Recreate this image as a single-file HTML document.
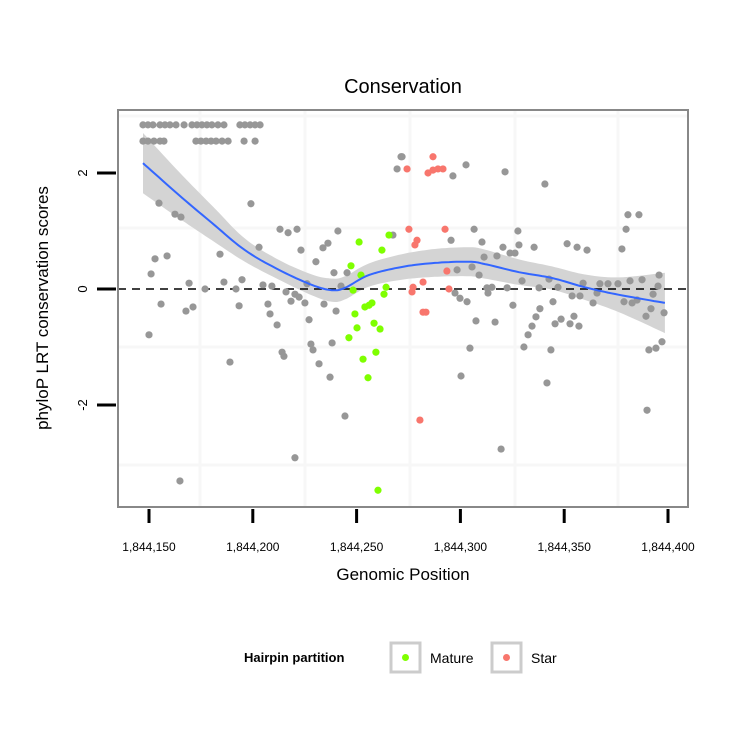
<!DOCTYPE html>
<html><head><meta charset="utf-8"><style>
body{margin:0;background:#fff;font-family:"Liberation Sans",sans-serif}
svg text{font-family:"Liberation Sans",sans-serif}
</style></head><body>
<svg id="chart" width="750" height="750" viewBox="0 0 750 750">
<rect width="750" height="750" fill="#fff"/>
<text x="403" y="93" font-size="20" text-anchor="middle">Conservation</text>
<g id="grid"></g>
<g id="band"></g>
<line x1="118" x2="688" y1="289" y2="289" stroke="#000" stroke-width="1.6" stroke-dasharray="8,6"/>
<g id="pts"></g>
<g id="line"></g>
<rect x="118" y="110" width="570" height="397" fill="none" stroke="#888" stroke-width="2"/>
<g id="axes"></g>
<text x="403" y="580" font-size="17" text-anchor="middle">Genomic Position</text>
<text transform="translate(48,308) rotate(-90)" font-size="17" text-anchor="middle">phyloP LRT conservation scores</text>
<g>
<text x="244" y="662" font-size="13" font-weight="bold">Hairpin partition</text>
<g>
<rect x="391" y="643" width="29" height="29" fill="#fff" stroke="#ccc" stroke-width="3"/>
<circle cx="405.5" cy="657.5" r="3.5" fill="#7FFF00"/>
<text x="430" y="663" font-size="14">Mature</text></g>
<g>
<rect x="492" y="643" width="29" height="29" fill="#fff" stroke="#ccc" stroke-width="3"/>
<circle cx="506.5" cy="657.5" r="3.5" fill="#F8766D"/>
<text x="531" y="663" font-size="14">Star</text></g>
</g>
</svg>
<script>
const xTicks=[1844150,1844200,1844250,1844300,1844350,1844400];
const xTickLabels=["1,844,150","1,844,200","1,844,250","1,844,300","1,844,350","1,844,400"];
const yTicks=[2,0,-2];
const yTickLabels=["2","0","-2"];
// positions are offsets from 1,844,000
const grayX=[147.1,149.5,151.9,155.3,157.7,160.1,163,166.9,170.7,173.1,175.5,177.9,180.3,183.2,186.1,193.8,196.2,198.7,201.1,203.5,147.1,149.5,152.4,155.3,157.2,172.6,175,177.5,179.9,182.3,185.2,188.1,195.8,201.1,154.8,162.5,165.4,199.1,213.1,217,221.3,241,203,223.2,233.8,236.2,230.4,152.9,158.7,151,184.2,169.3,177,186.1,194.8,191.9,204.9,209.2,216,220.3,222.3,218.4,225.1,234.3,155.8,171.2,193.4,207.3,226.1,239.1,245.4,242.5,271.4,269.5,267.5,167.8,150,208.3,211.7,227.1,240.1,228,229,238.2,214.1,215,189,231.9,237.2,244.4,220.3,164.9,271.9,296.4,302.7,321.5,340.7,306.6,327.7,380.7,386,379.8,295.5,310.4,320.5,328.2,335.5,351.4,356.2,361,377.8,311.4,317.6,323.9,326.3,298.4,305.6,309,329.7,342.7,312.8,315.2,322.5,337.9,347,359.1,367.2,371.1,375.9,381.7,387.5,395.7,395.2,297.4,299.8,303.2,313.3,353.8,357.6,365.8,363.9,344.6,325.3,338.3,378.8,382.7,385.1,392.8,307.5,316.7,336.4,334.5,332.6,330.6,345.6,348.5,352.8,354.7,357.1,343.6,304.6,300.3,341.7,319.6,389.9,389.4,391.8,398.1,397.1,394.2,390.8];
const grayY=[2.83,2.83,2.83,2.83,2.83,2.83,2.83,2.83,2.83,2.83,2.83,2.83,2.83,2.83,2.83,2.83,2.83,2.83,2.83,2.83,2.55,2.55,2.55,2.55,2.55,2.55,2.55,2.55,2.55,2.55,2.55,2.55,2.55,2.55,1.48,1.29,1.24,1.47,1.03,0.97,1.03,1.0,0.72,0.67,0.71,0.79,0.47,0.52,0.57,0.26,0.6,0.1,0.0,0.12,0.16,0.0,0.07,0.05,-0.05,-0.09,-0.14,-0.21,-0.24,-0.26,-0.26,-0.31,-0.29,-0.26,0.09,0.28,0.28,0.05,2.28,2.07,0.93,-0.38,-0.79,-0.43,-0.62,-0.53,-0.38,-0.95,-1.05,-0.93,-1.09,-1.16,-1.26,-1.29,-1.52,-2.19,-2.91,-3.31,2.28,1.95,2.14,2.02,1.81,1.03,1.0,1.28,1.28,1.03,0.84,0.81,0.72,0.76,0.72,0.78,0.72,0.67,0.69,0.55,0.57,0.62,0.62,0.33,0.38,0.24,0.14,0.17,0.02,0.03,0.02,0.02,0.03,0.1,0.09,0.09,0.09,0.14,0.16,0.24,0.05,-0.07,-0.16,-0.22,-0.07,-0.12,-0.12,-0.07,-0.24,-0.22,-0.28,-0.34,-0.22,-0.24,-0.19,-0.09,-0.55,-0.57,-0.48,-0.64,-0.79,-1.0,-0.6,-0.52,-0.6,-0.47,-0.64,-1.05,-1.02,-1.5,-1.62,-2.76,-2.09,-0.47,-0.34,-0.41,-0.91,-1.02,-1.05];
const matureX=[257.4,254,249.2,258.4,261.3,250.2,246.3,259.3,253.1,255.5,260.3,251.2,262.2,247.3,252.1,248.3,264.2,263.2,265.6,256];
const matureY=[-0.24,-0.31,-0.43,-0.59,-0.69,-0.67,-0.84,-1.09,-1.21,-1.53,-3.47,0.81,0.67,0.4,0.24,-0.02,0.03,-0.09,0.93,-0.28];
const starX=[286.8,274.3,284.4,286.8,289.2,291.6,275.2,292.6,279.1,278.1,293.5,282,277.2,276.7,294.5,282,283.4,280.5];
const starY=[2.28,2.07,2.0,2.05,2.07,2.07,1.03,1.03,0.84,0.76,0.31,0.12,0.03,-0.05,0,-0.4,-0.4,-2.26];
const smoothX=[147.1,164.4,180.3,196.2,212.6,228.5,238.1,244.4,255.9,271.8,287.7,304.1,311.8,328.2,344.1,360,376.4,398.5];
const smoothY=[2.17,1.62,1.14,0.67,0.33,0.07,-0.02,0.02,0.24,0.38,0.45,0.47,0.43,0.29,0.19,0.03,-0.10,-0.24];
const smoothSE=[0.52,0.4,0.3,0.2,0.17,0.18,0.2,0.2,0.2,0.22,0.24,0.25,0.25,0.22,0.2,0.22,0.3,0.52];

const NS='http://www.w3.org/2000/svg';
const sx=p=>149+(p-150)*2.076;
const sxAbs=v=>sx(v-1844000);
const sy=v=>289-v*58;
function mk(tag,attrs,parent){const e=document.createElementNS(NS,tag);for(const k in attrs)e.setAttribute(k,attrs[k]);parent.appendChild(e);return e;}
const grid=document.getElementById('grid');
[200,305,410,515,618].forEach(x=>{const l=mk('line',{x1:x,x2:x,y1:110,y2:507,stroke:'#f7f7f7','stroke-width':3},grid);

});
[116,228,347,465].forEach(y=>{const l=mk('line',{x1:118,x2:688,y1:y,y2:y,stroke:'#f7f7f7','stroke-width':3},grid);

});
function smoothPath(xs,ys){let d='';for(let i=0;i<xs.length;i++){d+=(i?'L':'M')+xs[i].toFixed(1)+','+ys[i].toFixed(1);}return d;}
function catmull(xs,ys){const ox=[],oy=[];for(let i=0;i<xs.length-1;i++){const p0=i?i-1:i,p3=i+2<xs.length?i+2:i+1;for(let t=0;t<1;t+=0.1){const t2=t*t,t3=t2*t;const f=(a,b,c,d)=>0.5*((2*b)+(-a+c)*t+(2*a-5*b+4*c-d)*t2+(-a+3*b-3*c+d)*t3);ox.push(f(xs[p0],xs[i],xs[i+1],xs[p3]));oy.push(f(ys[p0],ys[i],ys[i+1],ys[p3]));}}ox.push(xs[xs.length-1]);oy.push(ys[ys.length-1]);return [ox,oy];}
const px=smoothX.map(sx);
const [ux,uy]=catmull(px,smoothY.map((v,i)=>sy(v+smoothSE[i])));
const [lx,ly]=catmull(px,smoothY.map((v,i)=>sy(v-smoothSE[i])));
const [mx,my]=catmull(px,smoothY.map(sy));
const band=mk('path',{d:smoothPath(ux,uy)+smoothPath(lx.slice().reverse(),ly.slice().reverse()).replace('M','L')+'Z',fill:'#d4d4d4'},document.getElementById('band'));


const pts=document.getElementById('pts');
function drawPts(xs,ys,col,name){xs.forEach((x,i)=>{const c=mk('circle',{cx:sx(x),cy:sy(ys[i]),r:3.6,fill:col},pts);

});}
drawPts(grayX,grayY,'#979797','point-other');
drawPts(matureX,matureY,'#7FFF00','point-mature');
drawPts(starX,starY,'#F8766D','point-star');
const ln=mk('path',{d:smoothPath(mx,my),fill:'none',stroke:'#3366FF','stroke-width':2},document.getElementById('line'));


const axes=document.getElementById('axes');
xTicks.forEach((v,i)=>{const x=sxAbs(v);
const t=mk('line',{x1:x,x2:x,y1:509,y2:523,stroke:'#000','stroke-width':3},axes);


const tx=mk('text',{x:x,y:551,'font-size':12,'text-anchor':'middle'},axes);tx.textContent=xTickLabels[i];

});
yTicks.forEach((v,i)=>{const y=sy(v);
const t=mk('line',{x1:97,x2:116,y1:y,y2:y,stroke:'#000','stroke-width':3},axes);


const tx=mk('text',{transform:`translate(87,${y}) rotate(-90)`,'font-size':13,'text-anchor':'middle'},axes);tx.textContent=yTickLabels[i];

});
</script>
</body></html>
